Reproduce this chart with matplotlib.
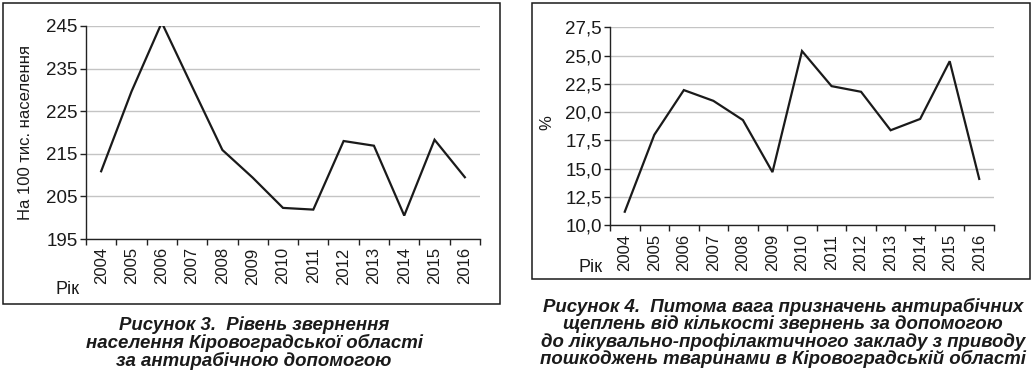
import matplotlib.pyplot as plt
from matplotlib.patches import Rectangle
from matplotlib.ticker import FixedLocator, FuncFormatter

# data
years = ['2004', '2005', '2006', '2007', '2008', '2009', '2010',
         '2011', '2012', '2013', '2014', '2015', '2016']
appeals = [210.9, 229.6, 245.8, 230.8, 215.9, 209.4, 202.3,
           201.9, 218.0, 216.9, 200.5, 218.3, 209.5]
vacc_share = [11.2, 18.0, 21.95, 21.0, 19.3, 14.7, 25.4,
              22.3, 21.8, 18.4, 19.4, 24.5, 14.1]

left_ticks = [195, 205, 215, 225, 235, 245]
right_ticks = [10.0, 12.5, 15.0, 17.5, 20.0, 22.5, 25.0, 27.5]

caption3 = 'Рисунок 3.  Рівень звернення\nнаселення Кіровоградської області\nза антирабічною допомогою'
caption4 = ('Рисунок 4.  Питома вага призначень антирабічних\n'
            'щеплень від кількості звернень за допомогою\n'
            'до лікувально-профілактичного закладу з приводу\n'
            'пошкоджень тваринами в Кіровоградській області')

plt.rcParams['font.family'] = ['Liberation Sans', 'DejaVu Sans']

fig = plt.figure(figsize=(10.33, 3.81), dpi=100)
W, H = 1033, 381


def px_axes(x0, y0, x1, y1):
    # pixel box (top-left origin) -> figure axes
    return fig.add_axes([x0 / W, 1 - y1 / H, (x1 - x0) / W, (y1 - y0) / H])


def style(ax, values, ticks, lim, fmt):
    x = list(range(len(years)))
    ax.plot(x, values, color='#1a1a1a', lw=1.6, solid_joinstyle='miter')
    ax.set_xlim(-0.5, len(years) - 0.5)
    ax.set_ylim(*lim)
    ax.set_yticks(ticks)
    ax.yaxis.set_major_formatter(FuncFormatter(fmt))
    ax.set_xticks(x)
    ax.set_xticklabels(years, rotation=90, fontsize=12)
    ax.tick_params(axis='x', which='major', length=0, pad=6, labelcolor='#1a1a1a')
    ax.xaxis.set_minor_locator(FixedLocator([i - 0.5 for i in range(len(years) + 1)]))
    ax.tick_params(axis='x', which='minor', length=4, width=1, color='#222222')
    ax.tick_params(axis='y', length=4, width=1, color='#222222', labelsize=13.5, pad=2,
                   labelcolor='#1a1a1a')
    ax.grid(axis='y', color='#c4c4c4', lw=1)
    ax.set_axisbelow(True)
    for s in ['top', 'right']:
        ax.spines[s].set_visible(False)
    for s in ['left', 'bottom']:
        ax.spines[s].set_color('#222222')
        ax.spines[s].set_linewidth(1)
        ax.spines[s].set_zorder(3)


# frames around both figures
fig.patches.append(Rectangle((3 / W, 1 - 304 / H), 497 / W, 301 / H, transform=fig.transFigure,
                             fill=False, ec='#1a1a1a', lw=1.1))
fig.patches.append(Rectangle((532 / W, 1 - 279 / H), 498 / W, 276 / H, transform=fig.transFigure,
                             fill=False, ec='#1a1a1a', lw=1.1))

ax1 = px_axes(86, 26, 480, 239)
style(ax1, appeals, left_ticks, (195, 245), lambda v, p: '%d' % v)
ax1.set_ylabel('На 100 тис. населення', fontsize=12, color='#1a1a1a')
ax1.yaxis.set_label_coords((33 - 86) / 394, 0.5)
fig.text(68 / W, 1 - 290 / H, 'Рік', fontsize=13, ha='center', va='center', color='#1a1a1a')

ax2 = px_axes(610, 27.3, 994, 225.3)
style(ax2, vacc_share, right_ticks, (10, 27.5), lambda v, p: ('%.1f' % v).replace('.', ','))
ax2.set_ylabel('%', fontsize=12, color='#1a1a1a')
ax2.yaxis.set_label_coords((554 - 610) / 384, 0.517)
fig.text(591 / W, 1 - 268 / H, 'Рік', fontsize=13, ha='center', va='center', color='#1a1a1a')

cap_kw = dict(ha='center', va='center', fontsize=13.4, fontweight='bold', fontstyle='italic',
              family=['Liberation Sans', 'DejaVu Sans'], linespacing=0.98, color='#1a1a1a')
fig.text(254 / W, 1 - 343 / H, caption3, **cap_kw)
fig.text(783 / W, 1 - 333 / H, caption4, **cap_kw)

fig.savefig('out.png', dpi=100)
